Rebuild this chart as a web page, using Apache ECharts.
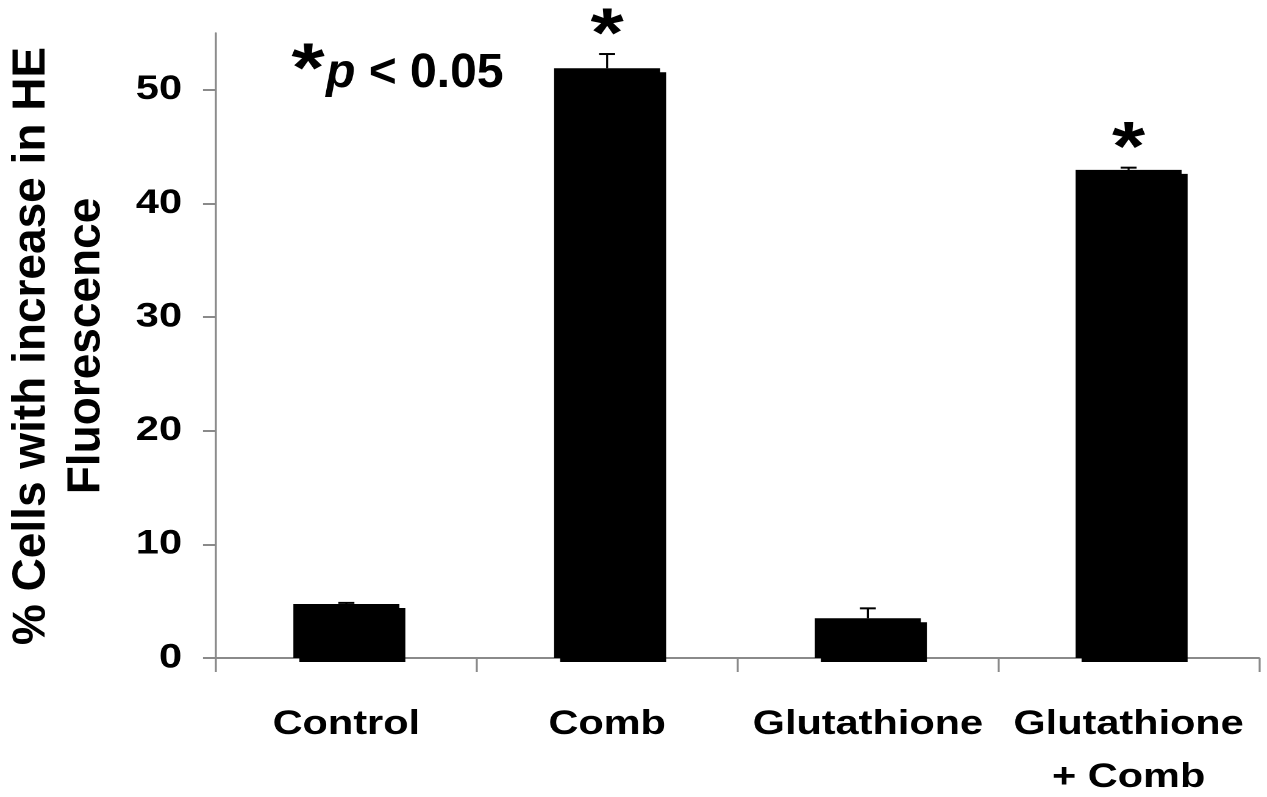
<!DOCTYPE html>
<html>
<head>
<meta charset="utf-8">
<script src="https://cdn.jsdelivr.net/npm/echarts@6/dist/echarts.min.js"></script>
<style>
  html, body { margin: 0; padding: 0; background: #fff; overflow: hidden; }
  /* the figure is laid out narrow and widened horizontally */
  #chart { width: 1039px; height: 797px; transform-origin: 0 0; transform: scaleX(1.2194); }
</style>
</head>
<body>
<div id="chart"></div>
<script>
// Treatment groups and measured values (% cells with increase in HE fluorescence)
const categories = ['Control', 'Comb', 'Glutathione', 'Glutathione\n+ Comb'];
const means = [4.75, 51.9, 3.5, 42.95];
const errors = [0.1, 1.25, 0.87, 0.2];
const significance = ['', '*', '', '*'];
const yTicks = [0, 10, 20, 30, 40, 50];

const SX = 1267 / 1039;            // horizontal widening applied by CSS
const FONT = '"Liberation Sans", Arial, Helvetica, sans-serif';
const AXIS_GRAY = '#8a8a8a';

const chart = echarts.init(document.getElementById('chart'), null, {
  renderer: 'canvas',
  devicePixelRatio: 2
});

const option = {
  animation: false,
  backgroundColor: '#fff',
  grid: { left: 216 / SX, right: 8 / SX, top: 33, bottom: 139, outerBoundsMode: 'none', containLabel: false },
  xAxis: {
    type: 'category',
    data: categories,
    boundaryGap: true,
    axisLine: { lineStyle: { color: AXIS_GRAY, width: 2 } },
    axisTick: { show: true, length: 14, lineStyle: { color: AXIS_GRAY, width: 1.6 } },
    axisLabel: {
      interval: 0,
      margin: 40,
      color: '#000',
      fontFamily: FONT,
      fontWeight: 'bold',
      fontSize: 34,
      lineHeight: 53
    }
  },
  yAxis: {
    type: 'value',
    min: 0,
    max: 55,
    interval: 10,
    axisLine: { show: true, lineStyle: { color: AXIS_GRAY, width: 1.6 } },
    axisTick: { show: true, length: 13 / SX, customValues: yTicks, lineStyle: { color: AXIS_GRAY, width: 2 } },
    axisLabel: {
      customValues: yTicks,
      margin: 34 / SX,
      color: '#000',
      fontFamily: FONT,
      fontWeight: 'bold',
      fontSize: 34
    },
    splitLine: { show: false }
  },
  series: [
    {
      type: 'bar',
      data: means,
      barWidth: 106 / SX,
      itemStyle: {
        color: '#000',
        shadowColor: '#000',
        shadowOffsetX: 6 / SX,
        shadowOffsetY: 4,
        shadowBlur: 0
      }
    },
    {
      // upper error bars with significance marks
      type: 'custom',
      data: means.map((m, i) => [i, m, errors[i]]),
      z: 5,
      renderItem: function (params, api) {
        const i = api.value(0);
        const m = api.value(1);
        const e = api.value(2);
        const base = api.coord([i, m]);
        const top = api.coord([i, m + e]);
        const half = 8 / SX;
        const children = [
          { type: 'line', shape: { x1: base[0], y1: base[1], x2: top[0], y2: top[1] },
            style: { stroke: '#000', lineWidth: 2 / SX } },
          { type: 'line', shape: { x1: top[0] - half, y1: top[1], x2: top[0] + half, y2: top[1] },
            style: { stroke: '#000', lineWidth: 2 } }
        ];
        const mark = significance[params.dataIndex];
        if (mark) {
          children.push({
            type: 'text',
            x: top[0],
            y: top[1] - 17,
            style: {
              text: mark,
              fill: '#000',
              fontFamily: FONT,
              fontWeight: 'bold',
              fontSize: 70,
              align: 'center',
              verticalAlign: 'middle'
            }
          });
        }
        return { type: 'group', children: children };
      }
    }
  ],
  graphic: [
    {
      // y-axis title, drawn at natural proportions
      type: 'text',
      x: 59.5 / SX,
      y: 346,
      rotation: Math.PI / 2,
      scaleY: 1 / SX,
      style: {
        text: '% Cells with increase in HE\nFluorescence',
        fill: '#000',
        fontFamily: FONT,
        fontWeight: 'bold',
        fontSize: 46,
        lineHeight: 55,
        align: 'center',
        verticalAlign: 'middle'
      }
    },
    {
      type: 'text',
      x: 308 / SX,
      y: 72,
      style: {
        text: '*',
        fill: '#000',
        fontFamily: FONT,
        fontWeight: 'bold',
        fontSize: 70,
        align: 'center',
        verticalAlign: 'middle'
      }
    },
    {
      type: 'text',
      x: 326 / SX,
      y: 74,
      scaleX: 1 / SX,
      style: {
        text: '{i|p} < 0.05',
        fill: '#000',
        fontFamily: FONT,
        fontWeight: 'bold',
        fontSize: 48,
        align: 'left',
        verticalAlign: 'middle',
        rich: {
          i: { fontStyle: 'italic', fontWeight: 'bold', fontFamily: FONT, fontSize: 48, fill: '#000' }
        }
      }
    }
  ]
};

chart.setOption(option);
</script>
</body>
</html>
